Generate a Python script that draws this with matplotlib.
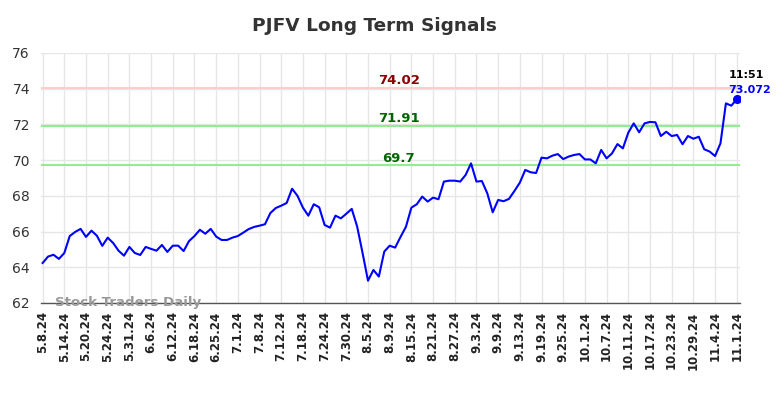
import matplotlib
matplotlib.use("Agg")
import matplotlib.pyplot as plt

values = [
    64.24, 64.6, 64.7, 64.47, 64.8, 65.75, 65.98, 66.15, 65.7, 66.05,
    65.77, 65.2, 65.66, 65.36, 64.93, 64.65, 65.14, 64.8, 64.69, 65.14,
    65.03, 64.93, 65.25, 64.86, 65.21, 65.21, 64.91, 65.47, 65.75, 66.1,
    65.88, 66.15, 65.72, 65.53, 65.53, 65.66, 65.75, 65.94, 66.14, 66.26,
    66.33, 66.41, 67.04, 67.32, 67.45, 67.6, 68.4, 68.0, 67.34, 66.89,
    67.53, 67.36, 66.37, 66.22, 66.89, 66.74, 67.0, 67.27, 66.28, 64.8,
    63.25, 63.85, 63.48, 64.88, 65.21, 65.1, 65.7, 66.27, 67.34, 67.53,
    67.96, 67.68, 67.9, 67.81, 68.8, 68.85, 68.85, 68.8, 69.17, 69.82,
    68.8, 68.83, 68.14, 67.08, 67.77, 67.7, 67.83, 68.27, 68.74, 69.45,
    69.32, 69.28, 70.14, 70.1, 70.25, 70.34, 70.06, 70.2, 70.29, 70.34,
    70.04, 70.04, 69.82, 70.57, 70.1, 70.38, 70.9, 70.66, 71.54, 72.06,
    71.56, 72.06, 72.14, 72.12, 71.35, 71.59, 71.35, 71.41, 70.89, 71.35,
    71.2, 71.31, 70.61, 70.48, 70.23, 70.94, 73.18, 73.05, 73.41,
]

tick_labels = [
    "5.8.24", "5.14.24", "5.20.24", "5.24.24", "5.31.24", "6.6.24", "6.12.24",
    "6.18.24", "6.25.24", "7.1.24", "7.8.24", "7.12.24", "7.18.24", "7.24.24",
    "7.30.24", "8.5.24", "8.9.24", "8.15.24", "8.21.24", "8.27.24", "9.3.24",
    "9.9.24", "9.13.24", "9.19.24", "9.25.24", "10.1.24", "10.7.24", "10.11.24",
    "10.17.24", "10.23.24", "10.29.24", "11.4.24", "11.1.24",
]

resistance = 74.02
support_hi = 71.91
support_lo = 69.7
last_time = "11:51"
last_label = "73.072"

fig = plt.figure(figsize=(7.84, 3.98), dpi=100)
ax = fig.add_axes([41/784, 1 - 303/398, (740 - 41)/784, (303 - 53)/398])

x = list(range(len(values)))
ax.set_xlim(-0.3, len(values) - 1 + 0.6)
ax.set_ylim(62, 76)

ax.axhline(resistance, color="#ffcccc", lw=1.5, zorder=1)
ax.axhline(support_hi, color="#90ee90", lw=1.5, zorder=1)
ax.axhline(support_lo, color="#90ee90", lw=1.5, zorder=1)

ax.plot(x, values, color="blue", lw=1.5, zorder=3)
ax.plot([x[-1]], [values[-1]], "o", color="blue", ms=5.5, zorder=4)

xm = 65.7
ax.text(xm, resistance + 0.05, f"{resistance:.2f}", color="#8b0000", fontsize=9.5,
        fontweight="bold", ha="center", va="bottom")
ax.text(xm, support_hi + 0.05, f"{support_hi:.2f}", color="#006400", fontsize=9.5,
        fontweight="bold", ha="center", va="bottom")
ax.text(xm, support_lo + 0.05, f"{support_lo:g}", color="#006400", fontsize=9.5,
        fontweight="bold", ha="center", va="bottom")

ax.text(x[-1] + 1.8, values[-1] + 1.05, last_time, color="black", fontsize=8,
        fontweight="bold", ha="center", va="bottom")
ax.text(x[-1] + 2.4, values[-1] + 0.25, last_label, color="blue", fontsize=8,
        fontweight="bold", ha="center", va="bottom")

ax.text(2.2, 62.0, "Stock Traders Daily", color="#999999", fontsize=9.6,
        fontweight="bold", ha="left", va="center", zorder=5)

ticks = list(range(0, len(values), 4))
ax.set_xticks(ticks)
ax.set_xticklabels(tick_labels, rotation=90, fontsize=8.5, fontweight="bold",
                   color="#222222")
ax.set_yticks(range(62, 77, 2))
ax.tick_params(axis="y", labelsize=10, colors="#333333", length=0, pad=8)
ax.tick_params(axis="x", length=0, pad=6)

ax.grid(True, color="#e6e6e6", lw=1, zorder=0)
ax.set_axisbelow(True)
for s in ["top", "right", "left"]:
    ax.spines[s].set_visible(False)
ax.spines["bottom"].set_color("#555555")
ax.spines["bottom"].set_linewidth(1)

fig.text(374/784, 1 - 26/398, "PJFV Long Term Signals", ha="center", va="center",
         fontsize=13.3, fontweight="bold", color="#333333")

fig.savefig("out.png", dpi=100)
